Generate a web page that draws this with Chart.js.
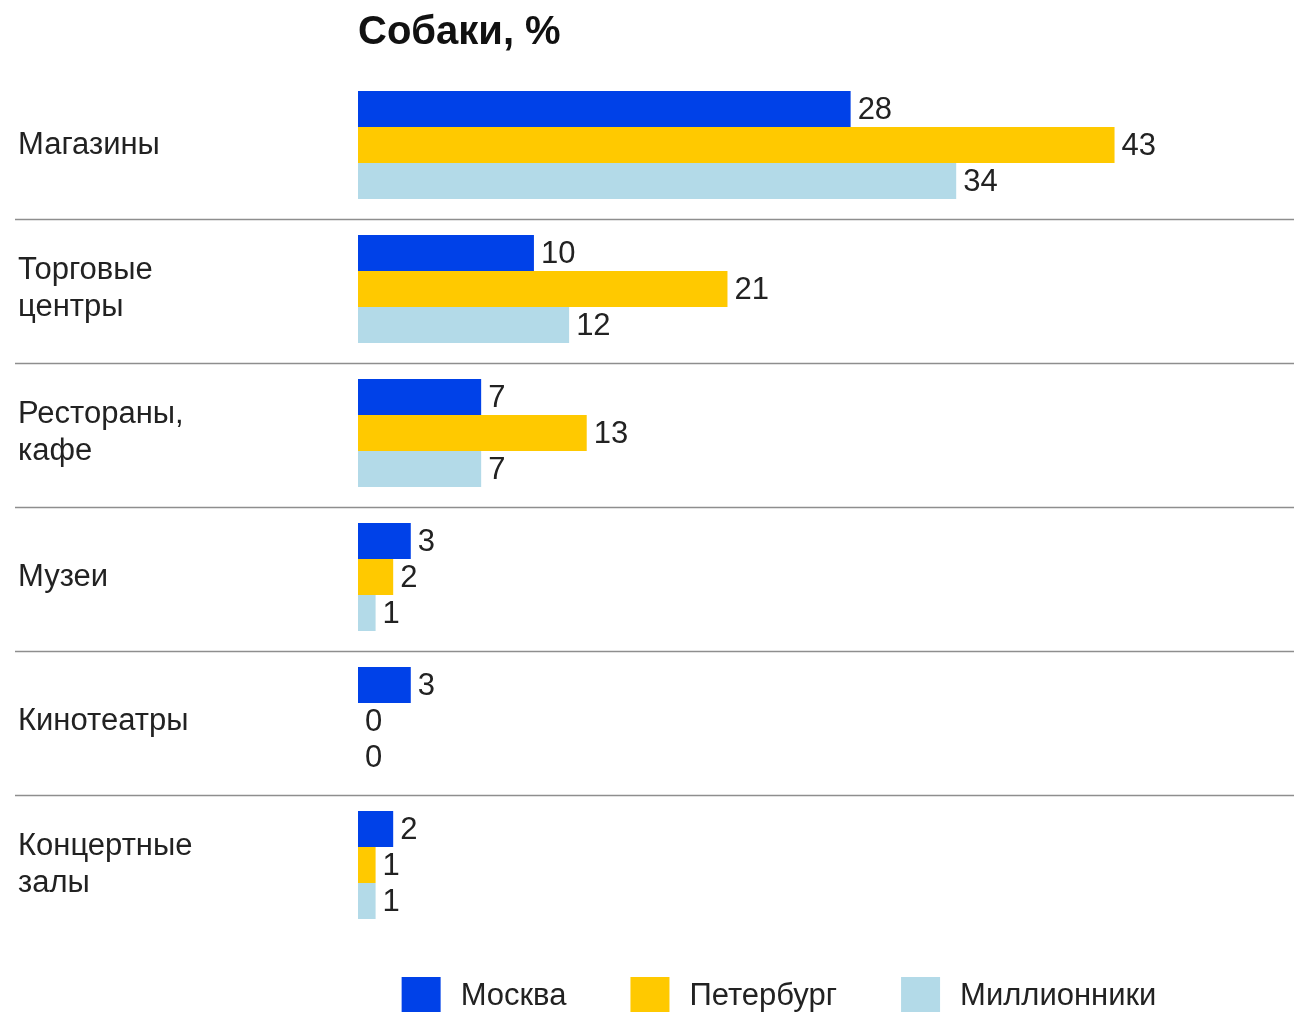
<!DOCTYPE html>
<html>
<head>
<meta charset="utf-8">
<script src="https://cdn.jsdelivr.net/npm/chart.js@4"></script>
<style>
  body { margin: 0; background: #fff; }
  #wrap { width: 1294px; height: 1012px; }
</style>
</head>
<body>
<div id="wrap"><canvas id="chart"></canvas></div>
<script>
const title = 'Собаки, %';
const categories = [
  'Магазины',
  ['Торговые', 'центры'],
  ['Рестораны,', 'кафе'],
  'Музеи',
  'Кинотеатры',
  ['Концертные', 'залы']
];
const seriesNames = ['Москва', 'Петербург', 'Миллионники'];
const moscow = [28, 10, 7, 3, 3, 2];
const spb = [43, 21, 13, 2, 0, 1];
const millions = [34, 12, 7, 1, 0, 1];
const colors = ['#0041e8', '#ffc900', '#b3dae8'];

const FONT = "'Liberation Sans', Arial, sans-serif";
const TEXT = '#222';

// value labels at the end of each bar
const valueLabels = {
  id: 'valueLabels',
  afterDatasetsDraw(chart) {
    const ctx = chart.ctx;
    ctx.save();
    ctx.font = '31px ' + FONT;
    ctx.fillStyle = TEXT;
    ctx.textAlign = 'left';
    ctx.textBaseline = 'middle';
    chart.data.datasets.forEach((ds, i) => {
      chart.getDatasetMeta(i).data.forEach((bar, j) => {
        ctx.fillText(ds.data[j], bar.x + 7, bar.y + 1);
      });
    });
    ctx.restore();
  }
};

// title, row separators and legend
const decor = {
  id: 'decor',
  afterDraw(chart) {
    const ctx = chart.ctx;
    const area = chart.chartArea;
    const y = chart.scales.y;
    ctx.save();

    ctx.font = 'bold 40px ' + FONT;
    ctx.fillStyle = '#111';
    ctx.textBaseline = 'middle';
    ctx.fillText(title, area.left, 33);

    ctx.strokeStyle = '#8e8e8e';
    ctx.lineWidth = 1.5;
    for (let i = 0; i < categories.length - 1; i++) {
      const yy = Math.round((y.getPixelForValue(i) + y.getPixelForValue(i + 1)) / 2) + 2.5;
      ctx.beginPath();
      ctx.moveTo(15, yy);
      ctx.lineTo(chart.width, yy);
      ctx.stroke();
    }

    ctx.font = '31px ' + FONT;
    const boxW = 39, boxH = 36, textGap = 20, itemGap = 64;
    const widths = seriesNames.map(n => ctx.measureText(n).width);
    let total = widths.reduce((a, w) => a + boxW + textGap + w, 0) + itemGap * (seriesNames.length - 1);
    let x = 779 - total / 2;
    const cy = 995;
    seriesNames.forEach((name, i) => {
      ctx.fillStyle = colors[i];
      ctx.fillRect(x, cy - boxH / 2, boxW, boxH);
      ctx.fillStyle = TEXT;
      ctx.textAlign = 'left';
      ctx.fillText(name, x + boxW + textGap, cy + 1);
      x += boxW + textGap + widths[i] + itemGap;
    });
    ctx.restore();
  }
};

const datasets = [moscow, spb, millions].map((d, i) => ({
  label: seriesNames[i],
  data: d,
  backgroundColor: colors[i],
  borderWidth: 0,
  barPercentage: 1,
  categoryPercentage: 0.75
}));

new Chart(document.getElementById('chart'), {
  type: 'bar',
  data: { labels: categories, datasets: datasets },
  options: {
    indexAxis: 'y',
    responsive: true,
    maintainAspectRatio: false,
    animation: false,
    layout: { padding: { top: 73, bottom: 75, left: 18, right: 0 } },
    plugins: {
      legend: { display: false },
      tooltip: { enabled: false }
    },
    scales: {
      x: {
        display: false,
        min: 0,
        max: 53.2
      },
      y: {
        grid: { display: false, drawTicks: false },
        border: { display: false },
        afterFit(scale) { scale.width = 340; },
        ticks: {
          crossAlign: 'far',
          color: TEXT,
          font: { family: FONT, size: 31, lineHeight: 1.22 }
        }
      }
    }
  },
  plugins: [valueLabels, decor]
});
</script>
</body>
</html>
